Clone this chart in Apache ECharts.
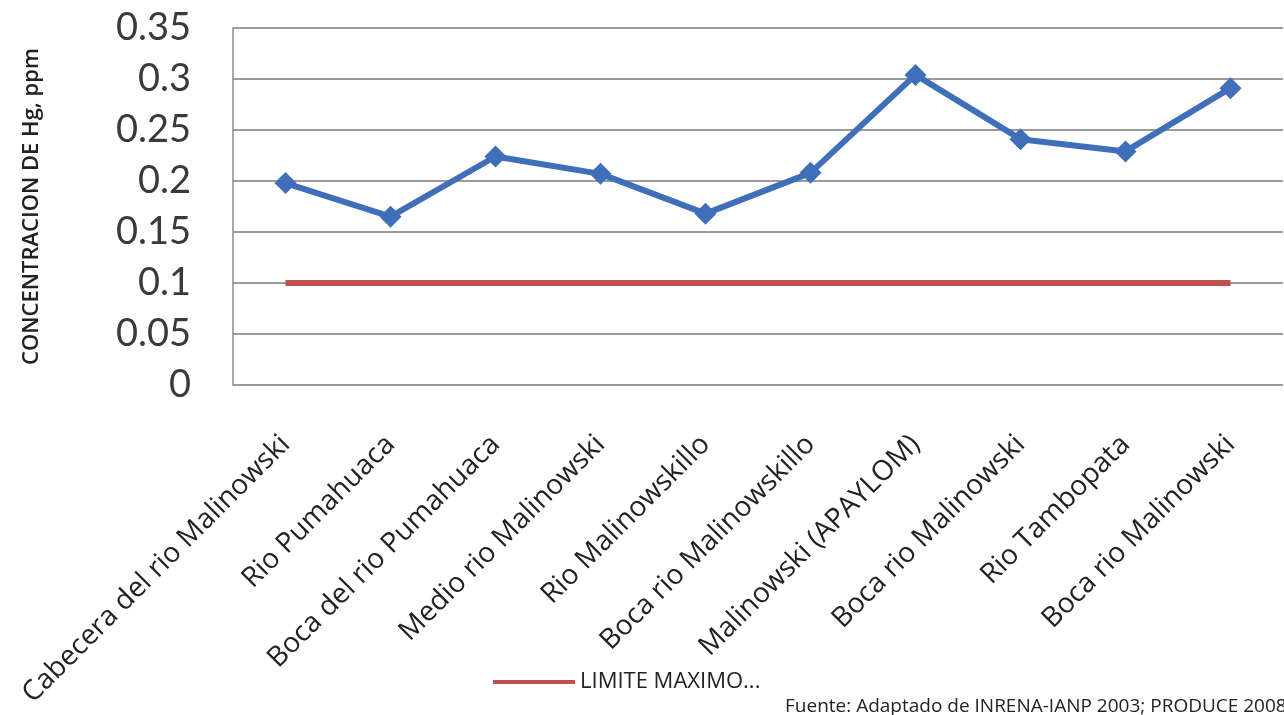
<!DOCTYPE html>
<html>
<head>
<meta charset="utf-8">
<script src="https://cdn.jsdelivr.net/npm/echarts@6/dist/echarts.min.js"></script>
<style>
  html, body { margin: 0; padding: 0; background: #fff; }
  #chart { width: 1284px; height: 715px; }
</style>
</head>
<body>
<div id="chart"></div>
<script>
// datos
const categories = [
  'Cabecera del rio Malinowski',
  'Rio Pumahuaca',
  'Boca del rio Pumahuaca',
  'Medio rio Malinowski',
  'Rio Malinowskillo',
  'Boca rio Malinowskillo',
  'Malinowski (APAYLOM)',
  'Boca rio Malinowski',
  'Rio Tambopata',
  'Boca rio Malinowski'
];
const concentracion = [0.198, 0.165, 0.224, 0.207, 0.168, 0.208, 0.304, 0.241, 0.229, 0.291];
const limiteMaximo = [0.1, 0.1, 0.1, 0.1, 0.1, 0.1, 0.1, 0.1, 0.1, 0.1];
const yTicks = ['0', '0.05', '0.1', '0.15', '0.2', '0.25', '0.3', '0.35'];

const chart = echarts.init(document.getElementById('chart'));

const option = {
  backgroundColor: '#ffffff',
  animation: false,
  grid: { left: 233, right: 1, top: 28, bottom: 330 },
  legend: {
    data: [{ name: 'LIMITE MAXIMO...', icon: 'rect' }],
    left: 488,
    top: 666,
    itemWidth: 82,
    itemHeight: 4,
    itemGap: 4,
    textStyle: { fontFamily: 'Open Sans', fontSize: 22, color: '#222', letterSpacing: -1.2 }
  },
  xAxis: {
    type: 'category',
    data: categories,
    boundaryGap: true,
    axisLine: { show: false },
    axisTick: { show: false },
    axisLabel: {
      interval: 0,
      rotate: 45,
      margin: 55,
      fontFamily: 'Open Sans',
      fontSize: 28,
      color: '#222'
    }
  },
  yAxis: {
    type: 'value',
    min: 0,
    max: 0.35,
    interval: 0.05,
    name: 'CONCENTRACION DE Hg, ppm',
    nameLocation: 'middle',
    nameGap: 190,
    nameTextStyle: { fontFamily: 'Open Sans', fontSize: 22, fontWeight: 600, color: '#222' },
    axisLine: { show: true, lineStyle: { color: '#8a8a8a', width: 1.5 } },
    axisTick: { show: false },
    axisLabel: {
      margin: 42,
      fontFamily: 'Lato',
      fontSize: 38,
      color: '#3a3a3a',
      formatter: function (v) { return yTicks[Math.round(v / 0.05)]; }
    },
    splitLine: { show: true, lineStyle: { color: '#7a7a7a', width: 1.5 } }
  },
  series: [
    {
      name: 'CONCENTRACION',
      type: 'line',
      data: concentracion,
      symbol: 'diamond',
      symbolSize: 22,
      lineStyle: { color: '#3f6fb8', width: 6 },
      itemStyle: { color: '#3f6fb8' },
      z: 3
    },
    {
      name: 'LIMITE MAXIMO...',
      type: 'line',
      data: limiteMaximo,
      symbol: 'none',
      lineStyle: { color: '#c0504d', width: 6 },
      itemStyle: { color: '#c0504d' },
      z: 2
    }
  ],
  graphic: [
    {
      type: 'text',
      left: 785,
      top: 697,
      style: {
        text: 'Fuente: Adaptado de INRENA-IANP 2003; PRODUCE 2008',
        fontFamily: 'Open Sans',
        fontSize: 19,
        fill: '#222'
      }
    }
  ]
};

chart.setOption(option);
</script>
</body>
</html>
